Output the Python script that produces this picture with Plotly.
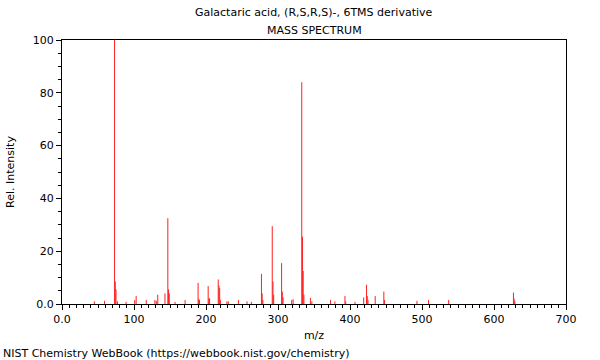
import plotly.graph_objects as go

mz = [45, 59, 73, 74, 75, 77, 89, 101, 103, 117, 129, 131, 133, 143, 147, 148, 149,
      157, 171, 189, 190, 191, 203, 204, 205, 217, 218, 219, 220, 229, 231, 245, 257,
      263, 277, 278, 279, 292, 293, 294, 305, 306, 307, 319, 321, 333, 334, 335, 336,
      345, 347, 373, 379, 393, 394, 407, 419, 423, 424, 425, 435, 447, 448, 493, 509,
      537, 627, 628, 629]
intensity = [1.0, 1.2, 100, 8.5, 5.5, 1.0, 0.8, 1.5, 3.0, 1.5, 1.5, 1.2, 3.5, 4.0, 32.5, 5.5, 4.0,
             0.8, 1.5, 8.0, 2.0, 1.5, 6.8, 2.0, 2.2, 9.3, 7.0, 6.0, 1.5, 1.0, 1.0, 1.5, 1.0,
             0.8, 11.4, 4.0, 1.5, 29.5, 8.5, 3.5, 15.5, 4.7, 2.5, 1.5, 1.8, 84, 25.5, 12.5, 3.5,
             2.3, 1.0, 1.5, 1.0, 3.0, 1.0, 0.8, 2.5, 7.3, 3.0, 1.5, 3.0, 4.7, 1.5, 1.2, 1.5,
             1.5, 4.3, 2.0, 1.0]

x_ticks = [0, 100, 200, 300, 400, 500, 600, 700]
x_labels = ["0.0", "100", "200", "300", "400", "500", "600", "700"]
y_ticks = [0, 20, 40, 60, 80, 100]
y_labels = ["0.0", "20", "40", "60", "80", "100"]

xs, ys = [], []
for m, v in zip(mz, intensity):
    xs += [m, m, None]
    ys += [0, v, None]

fig = go.Figure()
fig.add_trace(go.Scatter(x=xs, y=ys, mode="lines",
                         line=dict(color="#ff2020", width=1),
                         hoverinfo="skip", showlegend=False))

font = dict(family="DejaVu Sans", size=11, color="black")
fig.update_layout(
    width=600, height=360,
    margin=dict(l=62, r=34, t=40, b=56),
    paper_bgcolor="white", plot_bgcolor="white",
    font=font,
    showlegend=False,
    xaxis=dict(range=[0, 700], tickvals=x_ticks, ticktext=x_labels, automargin=False,
               ticks="outside", ticklen=5, tickcolor="black", showgrid=False,
               zeroline=False, showline=True, linecolor="black", linewidth=1, mirror=True,
               minor=dict(dtick=10, ticks="outside", ticklen=3, tickcolor="black", showgrid=False),
               title=dict(text="m/z", font=font, standoff=6), tickfont=font),
    yaxis=dict(range=[0, 100], tickvals=y_ticks, ticktext=y_labels, automargin=False,
               ticks="outside", ticklen=5, tickcolor="black", showgrid=False,
               zeroline=False, showline=True, linecolor="black", linewidth=1, mirror=True,
               minor=dict(dtick=5, ticks="outside", ticklen=3, tickcolor="black", showgrid=False),
               title=dict(text="Rel. Intensity", font=font, standoff=15), tickfont=font),
    annotations=[
        dict(text="Galactaric acid, (R,S,R,S)-, 6TMS derivative", x=314, y=13,
             xref="paper", yref="paper", showarrow=False, font=font),
        dict(text="MASS SPECTRUM", x=314, y=30, xref="paper", yref="paper",
             showarrow=False, font=font),
        dict(text="NIST Chemistry WebBook (https://webbook.nist.gov/chemistry)", x=1, y=353,
             xref="paper", yref="paper", showarrow=False, font=font, xanchor="left"),
    ],
)
# Convert pixel positions of annotations to paper coordinates
pw, ph = 600 - 62 - 34, 360 - 40 - 56
for a in fig.layout.annotations:
    px, py = a.x, a.y
    a.x = (px - 62) / pw
    a.y = (360 - 56 - py) / ph
    a.yanchor = "middle"

fig.write_html("out.html", config={"displayModeBar": False},
               post_script="document.body.style.margin='0';document.body.style.overflow='hidden';")
